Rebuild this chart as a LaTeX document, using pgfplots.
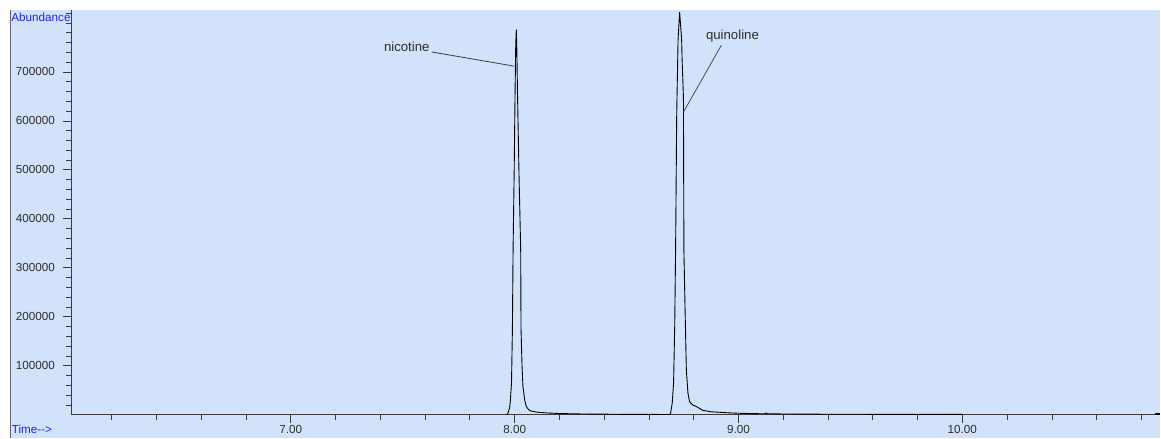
\documentclass[border=0pt]{standalone}
\usepackage{pgfplots}
\pgfplotsset{compat=1.18}
\usepackage{fontspec}
\setmainfont{Liberation Sans}
\definecolor{bg}{RGB}{211,226,251}
\definecolor{lbl}{RGB}{45,45,45}
\definecolor{blu}{RGB}{35,35,235}
\definecolor{axc}{RGB}{60,60,60}
\begin{document}
\begin{tikzpicture}[x=1pt,y=1pt]
\fill[white] (0,0) rectangle (1161,438);
\fill[bg] (10,0) rectangle (1161,428);
\draw[gray!80!black,line width=0.8pt] (10,0)--(10,428);
\node[blu,font=\fontsize{11.7}{13}\selectfont,inner sep=0pt] at (41,421) {Abundance};
\node[blu,font=\fontsize{11.7}{13}\selectfont,inner sep=0pt] at (32,8) {Time-{}->};
\begin{axis}[
  at={(71pt,23pt)}, anchor=south west,
  scale only axis, width=1090pt, height=405pt,
  xmin=6.018, xmax=10.884, ymin=0, ymax=826530,
  axis x line*=bottom, axis y line*=left,
  axis line style={-, draw=axc, line width=0.8pt},
  tick align=outside,
  major tick length=8pt, minor tick length=5pt,
  every tick/.style={draw=axc, line width=0.8pt},
  xtick={7,8,9,10}, xticklabels={7.00,8.00,9.00,10.00},
  minor xtick={6.2,6.4,6.6,6.8,7.2,7.4,7.6,7.8,8.2,8.4,8.6,8.8,9.2,9.4,9.6,9.8,10.2,10.4,10.6,10.8},
  ytick={100000,200000,300000,400000,500000,600000,700000},
  yticklabels={100000,200000,300000,400000,500000,600000,700000},
  minor ytick={20000,40000,60000,80000,120000,140000,160000,180000,220000,240000,260000,280000,320000,340000,360000,380000,420000,440000,460000,480000,520000,540000,560000,580000,620000,640000,660000,680000,720000,740000,760000,780000,800000,820000},
  tick label style={font=\fontsize{11.7}{13}\selectfont, text=lbl},
  xticklabel style={inner sep=0pt, anchor=center, yshift=-7pt},
  yticklabel style={inner sep=0pt, outer xsep=8pt, anchor=east},
  scaled ticks=false,
  clip=false,
]
\addplot[black, line width=0.9pt, line join=round] coordinates {
(7.963,0) (7.970,3000) (7.978,15000) (7.981,30000) (7.986,65000) (7.990,175000)
(7.993,337000) (7.998,500000) (8.002,663000) (8.005,760000) (8.0076,786000)
(8.010,740000) (8.013,650000) (8.020,480000) (8.027,337000) (8.0285,175000)
(8.033,100000) (8.037,58000) (8.045,30000) (8.052,17000) (8.063,10000)
(8.074,7500) (8.103,5000) (8.15,3500) (8.2,2500) (8.3,1500) (8.5,800)
(8.69,500) (8.696,1000) (8.704,24000) (8.710,65000) (8.715,180000)
(8.719,337000) (8.724,616000) (8.730,766000) (8.737,822000) (8.746,766000)
(8.748,725000) (8.754,649000) (8.755,500000) (8.756,337000) (8.762,200000)
(8.767,92000) (8.774,45000) (8.781,27000) (8.795,20000) (8.811,17000)
(8.84,9000) (8.878,6000) (8.95,4000) (9.0,3000) (9.1,2000) (9.118,2000)
(9.124,3500) (9.13,2000) (9.2,1500) (9.4,1000) (9.7,800) (10.0,600)
};
\addplot[black, line width=1.5pt] coordinates {(10.862,1500) (10.884,1500)};
\node[text=lbl,font=\fontsize{13.2}{14}\selectfont,inner sep=0pt] at (axis cs:7.518,751000) {nicotine};
\draw[axc, line width=0.8pt] (axis cs:7.629,740800) -- (axis cs:7.996,712000);
\node[text=lbl,font=\fontsize{13.2}{14}\selectfont,inner sep=0pt] at (axis cs:8.973,773500) {quinoline};
\draw[axc, line width=0.7pt] (axis cs:8.924,755000) -- (axis cs:8.754,618000);
\end{axis}
\end{tikzpicture}
\end{document}
